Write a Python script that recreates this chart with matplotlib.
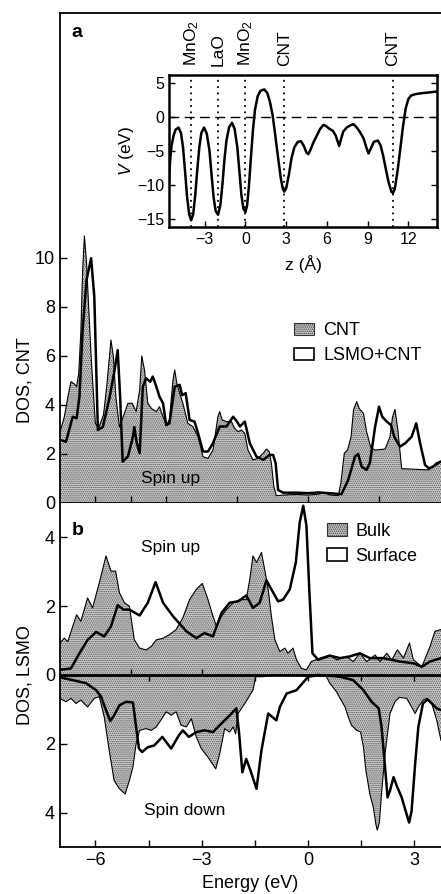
import matplotlib
matplotlib.use("Agg")
import matplotlib.pyplot as plt
from matplotlib.patches import Patch
from matplotlib.transforms import blended_transform_factory
import numpy as np

plt.rcParams["font.family"] = ["Liberation Sans", "DejaVu Sans"]
plt.rcParams["mathtext.fontset"] = "custom"
plt.rcParams["mathtext.rm"] = "Liberation Sans"
plt.rcParams["mathtext.it"] = "Liberation Sans:italic"
plt.rcParams["hatch.linewidth"] = 0.7

# ---------------- panel a : DOS on CNT (spin up) ----------------
cnt_e = [-7.0, -6.88, -6.78, -6.69, -6.59, -6.53, -6.47, -6.41, -6.36, -6.31, -6.25, -6.19,
         -6.11, -6.0, -5.91, -5.77, -5.68, -5.56, -5.49, -5.42, -5.32, -5.22, -5.08, -4.96,
         -4.85, -4.75, -4.69, -4.61, -4.52, -4.42, -4.28, -4.19, -4.09, -4.0, -3.91, -3.81,
         -3.76, -3.70, -3.62, -3.53, -3.39, -3.25, -3.10, -2.96, -2.82, -2.68, -2.54, -2.49,
         -2.42, -2.30, -2.16, -2.07, -1.97, -1.88, -1.78, -1.69, -1.55, -1.41, -1.26, -1.17,
         -1.09, -1.03, -0.96, -0.89, -0.6, -0.3, 0.0, 0.3, 0.48, 0.6, 0.86, 0.93, 1.03, 1.12,
         1.22, 1.29, 1.38, 1.45, 1.57, 1.66, 1.78, 1.90, 2.18, 2.32, 2.39, 2.46, 2.54, 2.65,
         3.41, 3.55, 3.64, 3.76]
cnt_dos = [2.9, 3.5, 4.3, 4.95, 4.85, 4.75, 5.3, 7.0, 9.5, 10.9, 9.8, 8.0,
           5.7, 3.25, 3.05, 3.6, 4.75, 6.65, 5.95, 4.3, 3.1, 3.5, 4.07, 4.07,
           3.73, 4.6, 6.0, 5.4, 4.07, 3.86, 3.73, 3.93, 3.52, 3.18, 3.39, 5.0,
           5.43, 4.88, 4.48, 4.07, 3.25, 3.12, 2.71, 1.89, 1.82, 2.16, 3.52, 3.73,
           3.39, 3.32, 3.32, 3.05, 2.91, 2.98, 2.84, 2.16, 1.76, 1.82, 2.03, 2.2,
           2.1, 1.62, 0.67, 0.3, 0.33, 0.35, 0.32, 0.36, 0.42, 0.33, 0.3, 0.8, 2.03, 2.16,
           2.7, 3.8, 4.14, 3.85, 3.66, 2.9, 2.25, 2.16, 2.2, 2.7, 3.5, 3.82, 3.0, 1.4,
           1.35, 1.5, 1.55, 1.7]

lsmo_cnt_e = [-7.0, -6.83, -6.74, -6.64, -6.53, -6.45, -6.36, -6.25, -6.12, -6.03, -5.93,
              -5.79, -5.60, -5.46, -5.37, -5.30, -5.23, -5.08, -4.94, -4.90, -4.83, -4.75,
              -4.66, -4.57, -4.45, -4.38, -4.28, -4.19, -4.09, -4.0, -3.91, -3.76, -3.62,
              -3.55, -3.45, -3.34, -3.20, -3.10, -2.96, -2.82, -2.68, -2.49, -2.30, -2.11,
              -2.0, -1.92, -1.78, -1.64, -1.45, -1.26, -1.08, -0.98, -0.91, -0.84, -0.70,
              -0.3, 0.0, 0.3, 0.6, 0.95, 1.14, 1.33, 1.42, 1.52, 1.66, 1.75, 1.90, 2.01,
              2.10, 2.23, 2.35, 2.44, 2.60, 2.75, 2.93, 3.06, 3.17, 3.31, 3.42, 3.55, 3.64, 3.76]
lsmo_cnt_dos = [2.57, 2.5, 2.98, 3.52, 3.46, 4.34, 7.06, 9.1, 9.99, 8.4, 2.98,
                3.1, 4.3, 5.4, 6.24, 4.3, 1.69, 1.9, 2.7, 3.1, 2.44, 2.03,
                4.75, 5.09, 4.95, 5.16, 4.75, 4.34, 4.07, 3.18, 3.25, 4.75, 4.82,
                4.4, 4.48, 3.39, 3.32, 2.84, 2.1, 2.1, 2.44, 3.12, 3.12, 3.52,
                3.32, 3.12, 3.32, 2.44, 1.89, 1.76, 1.96, 1.96, 1.62, 0.53, 0.42,
                0.42, 0.4, 0.43, 0.4, 0.36, 0.94, 1.89, 2.0, 1.48, 1.35, 1.62, 3.12, 3.93,
                3.52, 3.32, 3.18, 2.7, 2.3, 2.44, 2.7, 3.25, 2.44, 1.55, 1.41, 1.5, 1.62, 1.69]

# ---------------- panel b : DOS on LSMO ----------------
bulk_up_e = [-7.0, -6.88, -6.78, -6.64, -6.53, -6.41, -6.22, -6.08, -5.89, -5.70, -5.56,
             -5.43, -5.32, -5.18, -5.04, -4.90, -4.75, -4.57, -4.42, -4.28, -4.09, -3.91,
             -3.72, -3.53, -3.34, -3.15, -2.98, -2.82, -2.68, -2.58, -2.44, -2.30, -2.11,
             -1.92, -1.74, -1.64, -1.55, -1.45, -1.31, -1.22, -1.12, -1.03, -0.93, -0.79,
             -0.65, -0.56, -0.42, -0.32, -0.18, -0.04, 0.10, 0.34, 0.62, 0.81, 1.09, 1.28,
             1.47, 1.66, 1.90, 2.04, 2.23, 2.37, 2.53, 2.70, 2.87, 2.98, 3.22, 3.45, 3.59, 3.76]
bulk_up_dos = [0.93, 1.07, 0.97, 1.41, 1.75, 1.56, 2.24, 1.95, 2.68, 3.46, 3.02,
               3.02, 2.39, 2.1, 2.0, 1.02, 0.78, 0.73, 0.83, 1.02, 1.07, 1.17,
               1.32, 1.66, 2.19, 2.49, 2.66, 2.19, 1.71, 1.41, 1.71, 1.90, 2.1,
               2.19, 2.19, 2.78, 3.46, 3.27, 3.56, 3.07, 2.49, 1.71, 1.02, 0.68,
               0.78, 0.63, 0.78, 0.44, 0.19, 0.15, 0.39, 0.49, 0.58, 0.44, 0.54, 0.39,
               0.63, 0.39, 0.58, 0.39, 0.63, 0.44, 0.73, 0.49, 0.93, 0.44, 0.24, 0.83, 1.27, 1.32]

surf_up_e = [-7.0, -6.69, -6.45, -6.22, -5.98, -5.75, -5.56, -5.37, -5.21, -5.04, -4.75,
             -4.52, -4.30, -4.09, -3.81, -3.43, -3.15, -2.92, -2.68, -2.44, -2.21, -1.97,
             -1.74, -1.55, -1.36, -1.17, -1.03, -0.84, -0.70, -0.51, -0.34, -0.23, -0.13,
             -0.04, 0.04, 0.13, 0.29, 0.62, 0.91, 1.19, 1.47, 1.75, 2.13, 2.60, 2.98,
             3.22, 3.45, 3.76]
surf_up_dos = [0.15, 0.19, 0.63, 1.02, 1.25, 1.12, 1.41, 2.03, 1.9, 1.9, 1.73,
               2.1, 2.70, 2.1, 1.71, 1.27, 1.07, 1.22, 1.12, 1.80, 2.1, 2.14,
               2.31, 1.95, 2.1, 2.75, 2.49, 2.14, 2.19, 2.49, 3.27, 4.43, 4.92,
               4.34, 2.49, 0.63, 0.44, 0.56, 0.49, 0.54, 0.63, 0.49, 0.49, 0.39, 0.34,
               0.24, 0.39, 0.49]

bulk_dn_e = [-7.0, -6.83, -6.69, -6.55, -6.41, -6.22, -6.03, -5.89, -5.75, -5.61, -5.47,
             -5.32, -5.16, -5.04, -4.94, -4.85, -4.75, -4.57, -4.42, -4.28, -4.09, -4.0,
             -3.86, -3.72, -3.58, -3.43, -3.29, -3.15, -3.01, -2.82, -2.60, -2.49, -2.35,
             -2.21, -2.11, -2.04, -1.97, -1.78, -1.55, -1.47, -1.26, -1.0, 0.5, 0.62, 0.81,
             0.91, 1.05, 1.14, 1.23, 1.38, 1.49, 1.57, 1.64, 1.75, 1.85, 1.92, 1.96, 2.02,
             2.08, 2.18, 2.32, 2.46, 2.58, 2.79, 2.93, 3.03, 3.12, 3.26, 3.36, 3.50, 3.64, 3.76]
bulk_dn_dos = [0.68, 0.78, 0.68, 0.83, 0.73, 0.93, 0.68, 0.63, 1.22, 2.19, 3.07,
               3.31, 3.46, 3.07, 2.68, 2.0, 1.61, 1.56, 1.61, 1.51, 1.22, 1.07,
               1.17, 1.07, 1.46, 1.51, 1.27, 1.8, 2.14, 2.39, 2.73, 2.29, 1.56,
               1.66, 1.51, 1.71, 1.12, 0.83, 0.44, 0.05, 0.05, 0.0, 0.0, 0.24, 0.49,
               0.68, 0.93, 1.22, 1.46, 1.61, 1.66, 2.1, 2.78, 3.46, 3.85, 4.34, 4.51, 4.29,
               3.46, 2.29, 1.12, 0.78, 0.65, 0.68, 0.93, 1.12, 0.93, 0.73, 0.68, 0.83, 1.32, 1.9]

surf_dn_e = [-7.0, -6.64, -6.26, -5.98, -5.84, -5.72, -5.58, -5.47, -5.32, -5.13, -4.94,
             -4.85, -4.77, -4.68, -4.52, -4.34, -4.11, -3.86, -3.64, -3.53, -3.36, -3.15,
             -2.92, -2.68, -2.49, -2.30, -2.11, -2.02, -1.94, -1.85, -1.74, -1.62, -1.45,
             -1.31, -1.12, -0.89, -0.79, -0.60, -0.32, 0.01, 0.15, 0.25, 0.6, 0.91, 1.28,
             1.57, 1.80, 2.0, 2.08, 2.18, 2.25, 2.32, 2.42, 2.51, 2.65, 2.76, 2.86, 2.93,
             3.03, 3.12, 3.25, 3.38, 3.50, 3.64, 3.76]
surf_dn_dos = [0.07, 0.15, 0.24, 0.44, 0.63, 0.97, 1.34, 1.17, 0.88, 0.78, 0.8,
               1.51, 2.14, 2.24, 2.1, 2.05, 1.80, 2.14, 1.75, 1.61, 1.8, 1.66,
               1.61, 1.66, 1.46, 1.27, 1.07, 0.97, 1.71, 2.83, 2.44, 2.78, 3.31,
               2.19, 1.12, 1.32, 0.93, 0.54, 0.44, 0.05, 0.03, 0.0, 0.02, 0.05, 0.15,
               0.44, 0.78, 0.97, 1.5, 2.68, 3.56, 3.36, 2.97, 3.22, 3.56, 3.95, 4.29, 3.95,
               2.58, 1.51, 0.83, 0.71, 0.83, 0.97, 1.02]

# ---------------- inset : planar averaged potential ----------------
z_pos = [-5.64, -5.55, -5.45, -5.3, -5.15, -4.93, -4.75, -4.6, -4.45, -4.3, -4.15, -4.0,
         -3.85, -3.7, -3.55, -3.4, -3.25, -3.05, -2.85, -2.65, -2.5, -2.35, -2.2, -2.02,
         -1.85, -1.7, -1.55, -1.4, -1.2, -0.99, -0.8, -0.6, -0.45, -0.3, -0.15, 0.0,
         0.12, 0.25, 0.4, 0.55, 0.7, 0.9, 1.1, 1.38, 1.6, 1.8, 2.0, 2.2, 2.4, 2.6, 2.75,
         2.86, 3.0, 3.2, 3.4, 3.6, 3.85, 4.09, 4.3, 4.5, 4.63, 4.8, 5.0, 5.25, 5.5, 5.74,
         5.95, 6.2, 6.45, 6.65, 6.9, 7.05, 7.2, 7.45, 7.7, 7.96, 8.2, 8.45, 8.7, 8.9, 9.06,
         9.25, 9.45, 9.75, 9.95, 10.15, 10.35, 10.55, 10.75, 10.86, 11.0, 11.2, 11.4, 11.6,
         11.8, 12.0, 12.2, 12.5, 13.0, 13.5, 14.11]
potential = [-9.5, -6.5, -4.3, -2.8, -1.9, -1.6, -2.4, -4.5, -8.0, -11.8, -14.3, -15.2,
             -14.3, -11.5, -7.8, -4.5, -2.4, -1.6, -2.5, -5.0, -8.5, -11.8, -13.8, -14.4,
             -13.0, -10.0, -6.3, -3.5, -1.5, -0.9, -1.8, -4.5, -8.0, -11.5, -13.5, -14.0,
             -13.0, -10.3, -6.0, -2.0, 1.0, 3.0, 3.8, 4.0, 3.5, 2.2, 0.2, -2.8, -6.0, -9.0, -10.6,
             -11.0, -10.5, -8.5, -6.0, -4.5, -3.7, -3.6, -4.3, -5.3, -5.5, -4.8, -3.8, -2.8, -1.8, -1.2,
             -1.4, -1.8, -2.1, -2.8, -4.3, -3.2, -2.2, -1.6, -1.3, -1.1, -1.6, -2.3, -3.2, -4.5, -5.4,
             -4.6, -3.7, -3.5, -4.2, -5.8, -7.8, -9.7, -11.0, -11.2, -10.6, -8.0, -4.8, -1.5,
             1.2, 2.6, 3.1, 3.3, 3.45, 3.55, 3.7]
layer_z = [-4.0, -2.02, 0.0, 2.86, 10.84]
layer_names = ["MnO$_\\mathregular{2}$", "LaO", "MnO$_\\mathregular{2}$", "CNT", "CNT"]

FILL = "#cfcfcf"
DOTS = "#505050"
HATCH = "........"

fig = plt.figure(figsize=(4.41, 8.94), dpi=100)
axa = fig.add_axes([0.136, 0.4374, 0.864, 0.5481])
axb = fig.add_axes([0.136, 0.0526, 0.864, 0.3848])

# panel a
axa.fill_between(cnt_e, 0, cnt_dos, facecolor=FILL, edgecolor=DOTS, hatch=HATCH, linewidth=0)
axa.plot(cnt_e, cnt_dos, color="k", lw=0.8)
axa.plot(lsmo_cnt_e, lsmo_cnt_dos, color="k", lw=1.8)
axa.set_xlim(-7, 3.76)
axa.set_ylim(0, 20)
axa.set_yticks([0, 2, 4, 6, 8, 10])
axa.set_xticks([-6, -5, -4, -2, 0, 2])
axa.tick_params(axis="both", direction="in", length=5, width=1, labelsize=13,
                labelbottom=False)
axa.spines["right"].set_visible(False)
for s in ["left", "top", "bottom"]:
    axa.spines[s].set_linewidth(1.3)
axa.set_ylabel("DOS, CNT", fontsize=13)
axa.yaxis.set_label_coords(-0.07, 0.25)
axa.text(0.03, 0.96, "a", transform=axa.transAxes, fontsize=14, fontweight="bold",
         ha="left", va="center")
axa.text(-3.88, 0.98, "Spin up", fontsize=12.5, ha="center", va="center")
axa.legend([Patch(facecolor=FILL, edgecolor="#333333", hatch=HATCH, lw=0.8),
            Patch(facecolor="white", edgecolor="k", lw=1.2)],
           ["CNT", "LSMO+CNT"], loc="upper left", bbox_to_anchor=(0.615, 0.369),
           frameon=False, fontsize=13, handlelength=1.1, handletextpad=0.5,
           labelspacing=0.45, borderpad=0, borderaxespad=0)

# panel b
axb.fill_between(bulk_up_e, 0, bulk_up_dos, facecolor=FILL, edgecolor=DOTS, hatch=HATCH, linewidth=0)
axb.fill_between(bulk_dn_e, 0, -np.array(bulk_dn_dos), facecolor=FILL, edgecolor=DOTS,
                 hatch=HATCH, linewidth=0)
axb.plot(bulk_up_e, bulk_up_dos, color="k", lw=0.8)
axb.plot(bulk_dn_e, -np.array(bulk_dn_dos), color="k", lw=0.8)
axb.plot(surf_up_e, surf_up_dos, color="k", lw=1.8)
axb.plot(surf_dn_e, -np.array(surf_dn_dos), color="k", lw=1.8)
axb.axhline(0, color="k", lw=2)
axb.set_xlim(-7, 3.76)
axb.set_ylim(-5, 5)
axb.set_yticks([-4, -2, 0, 2, 4])
axb.set_yticklabels(["4", "2", "0", "2", "4"])
axb.set_xticks([-6, -4.5, -3, -1.5, 0, 1.5, 3])
axb.set_xticklabels(["\u22126", "", "\u22123", "", "0", "", "3"])
axb.tick_params(axis="both", direction="in", length=5, width=1, labelsize=13)
axb.spines["right"].set_visible(False)
axb.spines["top"].set_visible(False)
for s in ["left", "bottom"]:
    axb.spines[s].set_linewidth(1.3)
# short tick marks on the zero line
zero_up_ticks = [-5, -3]
zero_dn_ticks = [-4.5, -1.5, 0, 1.5, 3]
axb.vlines(zero_up_ticks, 0, 0.17, color="k", lw=1)
axb.vlines(zero_dn_ticks, -0.17, 0, color="k", lw=1)
axb.set_ylabel("DOS, LSMO", fontsize=13)
axb.yaxis.set_label_coords(-0.07, 0.5)
axb.set_xlabel("Energy (eV)", fontsize=13, labelpad=4.5)
axb.text(0.03, 0.92, "b", transform=axb.transAxes, fontsize=14, fontweight="bold",
         ha="left", va="center")
axb.text(-3.88, 3.7, "Spin up", fontsize=12.5, ha="center", va="center")
axb.text(-3.48, -3.95, "Spin down", fontsize=12.5, ha="center", va="center")
axb.legend([Patch(facecolor=FILL, edgecolor="#333333", hatch=HATCH, lw=0.8),
            Patch(facecolor="white", edgecolor="k", lw=1.2)],
           ["Bulk", "Surface"], loc="upper left", bbox_to_anchor=(0.70, 0.943),
           frameon=False, fontsize=13, handlelength=1.1, handletextpad=0.5,
           labelspacing=0.45, borderpad=0, borderaxespad=0)

# inset
axi = fig.add_axes([0.383, 0.746, 0.608, 0.170])
axi.plot(z_pos, potential, color="k", lw=1.8)
axi.axhline(0, color="k", lw=1, ls=(0, (7, 4)))
trans = blended_transform_factory(axi.transData, axi.transAxes)
for zl, name in zip(layer_z, layer_names):
    axi.axvline(zl, color="k", lw=1.3, ls=(0, (1, 2.5)))
    axi.text(zl, 1.06, name, transform=trans, rotation=90, ha="center", va="bottom",
             fontsize=12.5)
axi.set_xlim(-5.64, 14.11)
axi.set_ylim(-16.2, 6.1)
axi.set_xticks([-3, 0, 3, 6, 9, 12])
axi.set_xticklabels(["\u22123", "0", "3", "6", "9", "12"])
axi.set_yticks([5, 0, -5, -10, -15])
axi.set_yticklabels(["5", "0", "\u22125", "\u221210", "\u221215"])
axi.tick_params(axis="both", direction="in", length=4, width=1, labelsize=11.5,
                right=True)
for s in axi.spines.values():
    s.set_linewidth(1.8)
axi.set_xlabel("z (\u00c5)", fontsize=12.5, labelpad=6)
axi.set_ylabel("$V$ (eV)", fontsize=12.5, labelpad=1)

fig.savefig("out.png", dpi=100)
